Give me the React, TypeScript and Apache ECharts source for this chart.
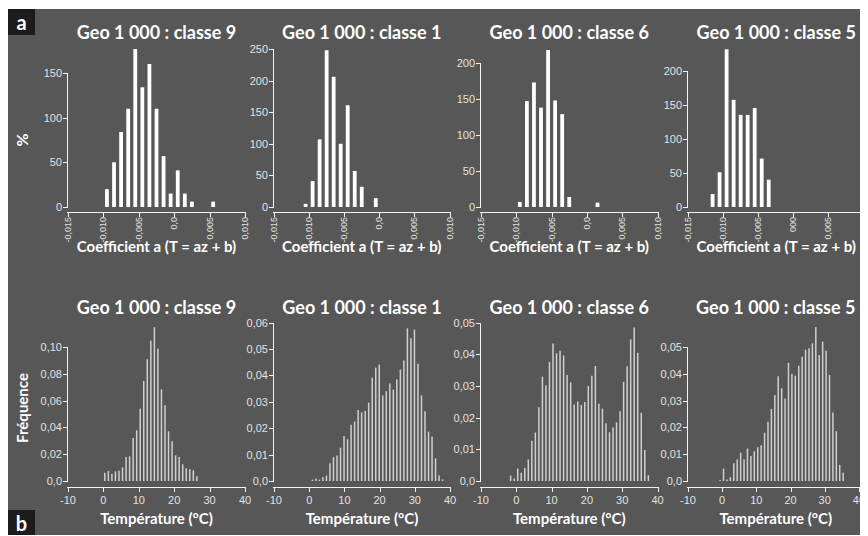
import { useEffect, useRef } from "react";
import * as echarts from "echarts";

// ---------- texts ----------
const panelTitles = [
  "Geo 1 000 : classe 9",
  "Geo 1 000 : classe 1",
  "Geo 1 000 : classe 6",
  "Geo 1 000 : classe 5",
];
const coefAxisName = "Coefficient a (T = az + b)";
const tempAxisName = "Température (°C)";
const coefYName = "%";
const tempYName = "Fréquence";
const coefTickLabels = ["-0,015", "-0,010", "-0,005", "0,0", "0,005", "0,010"];
const coefTickLabelsClasse5 = ["-0,015", "-0,010", "-0,005", "000", "0,005", "0,010"];

// ---------- row a : coefficient a histograms (bin centre, count) ----------
const coefBins9 = [-0.0095, -0.0085, -0.0075, -0.0065, -0.0055, -0.0045, -0.0035, -0.0025, -0.0015, -0.0005, 0.0005, 0.0015, 0.0025, 0.0055];
const coefCounts9 = [20, 50, 84, 110, 177, 134, 160, 110, 57, 15, 41, 15, 6, 6];
const coefBins1 = [-0.0105, -0.0095, -0.0085, -0.0075, -0.0065, -0.0055, -0.0045, -0.0035, -0.0025, -0.0005];
const coefCounts1 = [5, 41, 107, 248, 206, 100, 161, 57, 32, 14];
const coefBins6 = [-0.0095, -0.0085, -0.0075, -0.0065, -0.0055, -0.0045, -0.0035, -0.0025, 0.0015];
const coefCounts6 = [7, 147, 173, 138, 218, 148, 129, 14, 6];
const coefBins5 = [-0.0115, -0.0105, -0.0095, -0.0085, -0.0075, -0.0065, -0.0055, -0.0045, -0.0035];
const coefCounts5 = [19, 51, 231, 157, 135, 135, 145, 71, 40];

// ---------- row b : temperature histograms (1 °C bins, first bin centre) ----------
const tempStart9 = 0.4;
const tempFreq9 = [0.0062, 0.0075, 0.0052, 0.0072, 0.0077, 0.0102, 0.0179, 0.0184, 0.032, 0.0378, 0.054, 0.0747, 0.0909, 0.1048, 0.1148, 0.0988, 0.0685, 0.0565, 0.0371, 0.0296, 0.0192, 0.0179, 0.0125, 0.0095, 0.0087, 0.008, 0.0035];
const tempStart1 = 0.9;
const tempFreq1 = [0.0005, 0.0009, 0.0005, 0.0014, 0.002, 0.0067, 0.0091, 0.0097, 0.0126, 0.017, 0.0158, 0.0213, 0.0225, 0.0269, 0.026, 0.0266, 0.0297, 0.0391, 0.0429, 0.0441, 0.0324, 0.034, 0.0369, 0.0346, 0.0385, 0.0422, 0.0456, 0.0578, 0.054, 0.0573, 0.0444, 0.0324, 0.0264, 0.0187, 0.0168, 0.0086, 0.0021, 0.0006];
const tempStart6 = -1.6;
const tempFreq6 = [0.0017, 0.0008, 0.0039, 0.0026, 0.0041, 0.0068, 0.0127, 0.0153, 0.0233, 0.0329, 0.0302, 0.0376, 0.0434, 0.0403, 0.0411, 0.0396, 0.0334, 0.0311, 0.0241, 0.0251, 0.024, 0.0249, 0.03, 0.0332, 0.0363, 0.0244, 0.0228, 0.0182, 0.0154, 0.0169, 0.0185, 0.022, 0.0313, 0.0362, 0.0447, 0.0484, 0.0404, 0.0215, 0.0098, 0.0018];
const tempStart5 = -0.6;
const tempFreq5 = [0.0004, 0.0046, 0.0006, 0.0014, 0.0066, 0.008, 0.0106, 0.0081, 0.0121, 0.0093, 0.0111, 0.0126, 0.0133, 0.018, 0.0221, 0.0269, 0.0321, 0.0391, 0.0346, 0.0308, 0.0441, 0.04, 0.0393, 0.043, 0.0464, 0.049, 0.0495, 0.0514, 0.0575, 0.047, 0.052, 0.0486, 0.0396, 0.0256, 0.0186, 0.006, 0.0031];

// axis ranges
const coefXMin = -0.015;
const coefXMax = 0.01;
const coefXStep = 0.005;
const coefYMax = [150, 250, 200, 200];
const coefYStep = 50;
const tempXMin = -10;
const tempXMax = 40;
const tempXStep = 10;
const tempYMax = [0.1, 0.06, 0.05, 0.05];
const tempYInterval = [0.02, 0.01, 0.01, 0.01];

// ---------- layout ----------
const topGrids = [
  { left: 60, top: 64, width: 177, height: 134 },
  { left: 266, top: 40, width: 175.5, height: 158 },
  { left: 473, top: 54, width: 176.5, height: 144 },
  { left: 680, top: 61.5, width: 176.5, height: 136.5 },
];
const bottomGrids = [
  { left: 60, top: 338, width: 177, height: 134 },
  { left: 266, top: 313.5, width: 176, height: 158.5 },
  { left: 473, top: 313.5, width: 176.5, height: 158.5 },
  { left: 680, top: 338, width: 175.5, height: 134 },
];
const topAxisOffset = 5;
const bottomAxisOffset = 6;
const tickLen = 4;

const BG = "#575757";
const LINE = "#f2f2f2";
const LABEL = "#e2e2e2";
const FONT = "'Liberation Sans', Arial, sans-serif";
const TFONT = "Lato, 'Open Sans', sans-serif";

function buildOption() {
  const coefSets = [
    [coefBins9, coefCounts9],
    [coefBins1, coefCounts1],
    [coefBins6, coefCounts6],
    [coefBins5, coefCounts5],
  ];
  const tempSets: [number, number[]][] = [
    [tempStart9, tempFreq9],
    [tempStart1, tempFreq1],
    [tempStart6, tempFreq6],
    [tempStart5, tempFreq5],
  ];

  const grid: any[] = [];
  const xAxis: any[] = [];
  const yAxis: any[] = [];
  const series: any[] = [];
  const graphic: any[] = [];

  const titleStyle = (text: string) => ({
    text,
    fill: "#ffffff",
    fontSize: 18,
    fontWeight: "bold",
    fontFamily: TFONT,
    align: "center",
    verticalAlign: "middle",
  });
  const nameStyle = (text: string) => ({
    text,
    fill: "#ffffff",
    fontSize: 15,
    fontWeight: "bold",
    fontFamily: TFONT,
    align: "center",
    verticalAlign: "middle",
  });
  const hidden = { show: false };

  topGrids.forEach((g, i) => {
    grid.push({ ...g, show: false });
    const labels = i === 3 ? coefTickLabelsClasse5 : coefTickLabels;
    xAxis.push({
      type: "value",
      gridIndex: i,
      position: "bottom",
      min: coefXMin,
      max: coefXMax,
      interval: coefXStep,
      offset: topAxisOffset,
      axisLine: { show: false, onZero: false },
      axisTick: hidden,
      splitLine: hidden,
      axisLabel: {
        color: LABEL,
        fontSize: 9,
        fontFamily: FONT,
        rotate: 90,
        margin: 5,
        showMinLabel: true,
        showMaxLabel: true,
        formatter: (v: number) => labels[Math.round((v - coefXMin) / coefXStep)] ?? "",
      },
    });
    yAxis.push({
      type: "value",
      gridIndex: i,
      position: "left",
      min: 0,
      max: coefYMax[i],
      interval: coefYStep,
      axisLine: { show: false, onZero: false },
      axisTick: hidden,
      splitLine: hidden,
      axisLabel: { color: LABEL, fontSize: 11, fontFamily: FONT, margin: 6 },
    });
    const [bins, counts] = coefSets[i];
    series.push({
      type: "bar",
      xAxisIndex: i,
      yAxisIndex: i,
      barWidth: 3.8,
      clip: false,
      itemStyle: { color: "#ffffff" },
      data: (bins as number[]).map((b, k) => [b, (counts as number[])[k]]),
    });
    graphic.push({ type: "text", x: g.left + g.width / 2, y: 22.7, style: titleStyle(panelTitles[i]) });
    graphic.push({ type: "text", x: g.left + g.width / 2, y: 236.5, style: nameStyle(coefAxisName) });
  });

  bottomGrids.forEach((g, j) => {
    const i = j + 4;
    grid.push({ ...g, show: false });
    xAxis.push({
      type: "value",
      gridIndex: i,
      position: "bottom",
      min: tempXMin,
      max: tempXMax,
      interval: tempXStep,
      offset: bottomAxisOffset,
      axisLine: { show: false, onZero: false },
      axisTick: hidden,
      splitLine: hidden,
      axisLabel: { color: LABEL, fontSize: 11, fontFamily: FONT, margin: 7, showMinLabel: true, showMaxLabel: true },
    });
    yAxis.push({
      type: "value",
      gridIndex: i,
      position: "left",
      min: 0,
      max: tempYMax[j],
      interval: tempYInterval[j],
      axisLine: { show: false, onZero: false },
      axisTick: hidden,
      splitLine: hidden,
      axisLabel: {
        color: LABEL,
        fontSize: 11,
        fontFamily: FONT,
        margin: 6,
        formatter: (v: number) => (Math.abs(v) < 1e-9 ? "0,0" : v.toFixed(2).replace(".", ",")),
      },
    });
    const [start, freqs] = tempSets[j];
    series.push({
      type: "bar",
      xAxisIndex: i,
      yAxisIndex: i,
      barWidth: 1.5,
      clip: false,
      itemStyle: { color: "#d0d0d0" },
      data: freqs.map((f, k) => [start + k, f]),
    });
    graphic.push({ type: "text", x: g.left + g.width / 2, y: 297.7, style: titleStyle(panelTitles[j]) });
    graphic.push({ type: "text", x: g.left + g.width / 2, y: 509, style: nameStyle(tempAxisName) });
  });

  graphic.push({
    type: "text",
    x: 13.7,
    y: 131,
    rotation: Math.PI / 2,
    style: { text: coefYName, fill: "#ffffff", fontSize: 16, fontWeight: "bold", fontFamily: TFONT, align: "center", verticalAlign: "middle" },
  });
  graphic.push({
    type: "text",
    x: 14,
    y: 399,
    rotation: Math.PI / 2,
    style: { text: tempYName, fill: "#ffffff", fontSize: 15, fontWeight: "bold", fontFamily: TFONT, align: "center", verticalAlign: "middle" },
  });

  graphic.push({ type: "rect", shape: { x: 0, y: 0, width: 27, height: 26 }, style: { fill: "#1c1c1c" } });
  graphic.push({
    type: "text",
    x: 13.5,
    y: 12.5,
    style: { text: "a", fill: "#ffffff", fontSize: 20, fontWeight: "bold", fontFamily: TFONT, align: "center", verticalAlign: "middle" },
  });
  graphic.push({ type: "rect", shape: { x: 0, y: 501, width: 27, height: 26 }, style: { fill: "#1c1c1c" } });
  graphic.push({
    type: "text",
    x: 13.5,
    y: 513.5,
    style: { text: "b", fill: "#ffffff", fontSize: 20, fontWeight: "bold", fontFamily: TFONT, align: "center", verticalAlign: "middle" },
  });

  return {
    animation: false,
    backgroundColor: BG,
    grid,
    xAxis,
    yAxis,
    series,
    graphic,
  };
}

// axis lines and ticks as thin filled rects, placed through the chart's own scales
function buildAxisGraphics(chart: any) {
  const els: any[] = [];
  const fillStyle = { fill: LINE };
  const seq = (a: number, b: number, s: number) => {
    const out: number[] = [];
    const n = Math.round((b - a) / s);
    for (let k = 0; k <= n; k++) out.push(a + k * s);
    return out;
  };
  const grids = [...topGrids, ...bottomGrids];
  for (let i = 0; i < 8; i++) {
    const top = i < 4;
    const g = grids[i];
    const xMin = top ? coefXMin : tempXMin;
    const xMax = top ? coefXMax : tempXMax;
    const xStep = top ? coefXStep : tempXStep;
    const yMax = top ? coefYMax[i] : tempYMax[i - 4];
    const yStep = top ? coefYStep : tempYInterval[i - 4];
    const off = top ? topAxisOffset : bottomAxisOffset;
    const p = (x: number, y: number): number[] => {
      let r: any = null;
      try {
        r = chart.convertToPixel({ gridIndex: i }, [x, y]);
      } catch (e) {
        r = null;
      }
      if (!r || !isFinite(r[0]) || !isFinite(r[1])) {
        r = [g.left + ((x - xMin) / (xMax - xMin)) * g.width, g.top + g.height - (y / yMax) * g.height];
      }
      return r;
    };
    const o = p(xMin, 0);
    const xr = p(xMax, 0);
    const yt = p(xMin, yMax);
    const axisY = Math.round(o[1] + off);
    const axisX = Math.round(o[0]) - 1;
    els.push({ type: "rect", shape: { x: axisX, y: axisY, width: xr[0] - axisX + 1, height: 1 }, style: fillStyle, z: 100 });
    seq(xMin, xMax, xStep).forEach((v) => {
      const px = Math.round(p(v, 0)[0]);
      els.push({ type: "rect", shape: { x: Math.min(px, Math.round(xr[0])), y: axisY, width: 1, height: tickLen + 1 }, style: fillStyle, z: 100 });
    });
    els.push({ type: "rect", shape: { x: axisX, y: Math.round(yt[1]), width: 1, height: Math.round(o[1]) - Math.round(yt[1]) + 1 }, style: fillStyle, z: 100 });
    seq(0, yMax, yStep).forEach((v) => {
      const py = Math.round(p(xMin, v)[1]);
      els.push({ type: "rect", shape: { x: axisX - tickLen, y: py, width: tickLen + 1, height: 1 }, style: fillStyle, z: 100 });
    });
  }
  return els;
}

export default function App() {
  const ref = useRef<HTMLDivElement>(null);
  useEffect(() => {
    if (!ref.current) return;
    const chart = echarts.init(ref.current, null, { renderer: "svg" });
    const option = buildOption();
    chart.setOption(option as any);
    const axisEls = buildAxisGraphics(chart);
    chart.setOption({ graphic: [...option.graphic, ...axisEls] } as any);
    return () => chart.dispose();
  }, []);
  return <div ref={ref} style={{ width: 860, height: 527, position: "relative", top: 1 }} />;
}
